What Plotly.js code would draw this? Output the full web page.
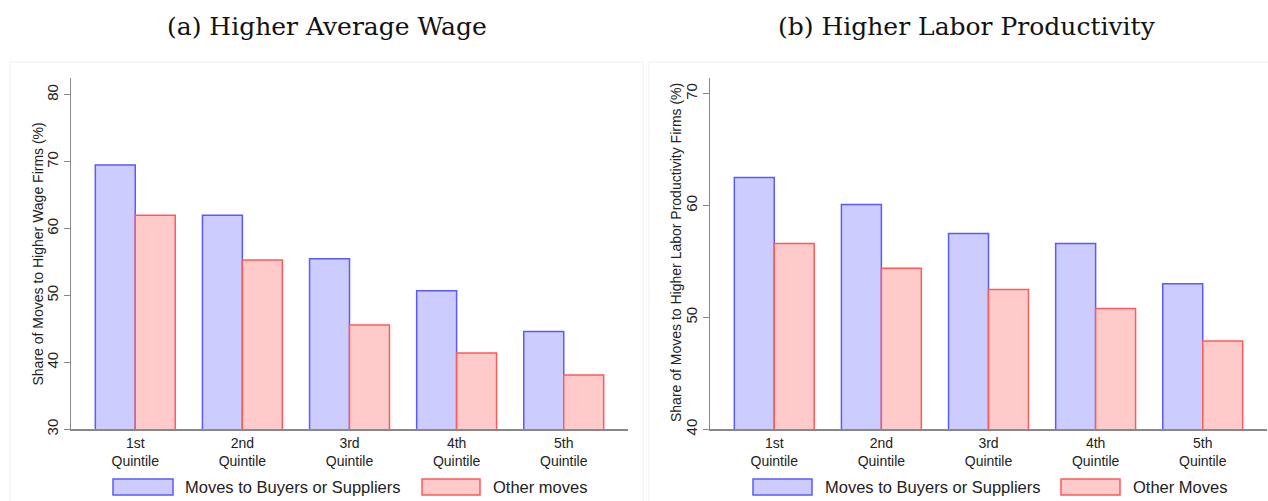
<!DOCTYPE html>
<html>
<head>
<meta charset="utf-8">
<script src="https://cdn.plot.ly/plotly-3.0.1.min.js"></script>
<style>html,body{margin:0;padding:0;background:#fff;}#chart{width:1268px;height:501px;}</style>
</head>
<body>
<div id="chart"></div>
<script>
const categories = ["1st<br>Quintile", "2nd<br>Quintile", "3rd<br>Quintile", "4th<br>Quintile", "5th<br>Quintile"];
const wageBuyersSuppliers = [69.5, 62.0, 55.5, 50.7, 44.6];
const wageOtherMoves = [62.0, 55.3, 45.6, 41.4, 38.1];
const prodBuyersSuppliers = [62.5, 60.1, 57.5, 56.6, 53.0];
const prodOtherMoves = [56.6, 54.4, 52.5, 50.8, 47.9];
const seriesNamesA = ["Moves to Buyers or Suppliers", "Other moves"];
const seriesNamesB = ["Moves to Buyers or Suppliers", "Other Moves"];
const panelTitles = ["(a) Higher Average Wage", "(b) Higher Labor Productivity"];
const yTitles = ["Share of Moves to Higher Wage Firms (%)", "Share of Moves to Higher Labor Productivity Firms (%)"];
const yTicksA = [30, 40, 50, 60, 70, 80];
const yTicksB = [40, 50, 60, 70];

const W = 1268, H = 501;
const px = x => x / W;
const py = y => (H - y) / H;

const blueFill = "#ccccff", blueLine = "#5a5aff";
const redFill = "#ffcaca", redLine = "#ff5a5a";
const sans = "Liberation Sans, Arial, sans-serif";

function bar(x, y, name, fill, line, xa, ya) {
  return {type: "bar", x: x, y: y, name: name, xaxis: xa, yaxis: ya,
    marker: {color: fill, line: {color: line, width: 1.5}}, showlegend: false, hoverinfo: "y"};
}

const data = [
  bar(categories, wageBuyersSuppliers, seriesNamesA[0], blueFill, blueLine, "x", "y"),
  bar(categories, wageOtherMoves, seriesNamesA[1], redFill, redLine, "x", "y"),
  bar(categories, prodBuyersSuppliers, seriesNamesB[0], blueFill, blueLine, "x2", "y2"),
  bar(categories, prodOtherMoves, seriesNamesB[1], redFill, redLine, "x2", "y2")
];

const tickFont = {family: sans, size: 14, color: "#222"};
const yTickFont = {family: sans, size: 15, color: "#222"};
const yDomain = [py(429.3), py(78)];

function xAxis(domain, anchor) {
  return {domain: domain, anchor: anchor, type: "category", range: [-0.6, 4.6],
    showline: true, linecolor: "#888", linewidth: 1.5, ticks: "", showgrid: false,
    zeroline: false, tickfont: tickFont, fixedrange: true};
}
function yAxis(domain, anchor, range, ticks) {
  return {domain: domain, anchor: anchor, range: range, tickvals: ticks, ticktext: ticks.map(String),
    showline: true, linecolor: "#888", linewidth: 1.5, ticks: "outside", ticklen: 6, tickcolor: "#888",
    tickwidth: 1.5, showgrid: false, zeroline: false, tickangle: -90, tickfont: yTickFont,
    fixedrange: true};
}

const shapes = [
  {type: "rect", xref: "paper", yref: "paper", x0: px(10), x1: px(643), y0: py(520), y1: py(62),
   line: {color: "#efefef", width: 1}, fillcolor: "rgba(0,0,0,0)", layer: "below"},
  {type: "rect", xref: "paper", yref: "paper", x0: px(649), x1: px(1280), y0: py(520), y1: py(62),
   line: {color: "#efefef", width: 1}, fillcolor: "rgba(0,0,0,0)", layer: "below"}
];
const annotations = [
  {text: panelTitles[0], xref: "paper", yref: "paper", x: px(327), y: py(27), showarrow: false,
   xanchor: "center", yanchor: "middle", font: {family: "DejaVu Serif, serif", size: 25, color: "#111"}},
  {text: panelTitles[1], xref: "paper", yref: "paper", x: px(967), y: py(27), showarrow: false,
   xanchor: "center", yanchor: "middle", font: {family: "DejaVu Serif, serif", size: 25, color: "#111"}},
  {text: yTitles[0], xref: "paper", yref: "paper", x: px(37), y: py(254.5), showarrow: false, textangle: -90,
   xanchor: "center", yanchor: "middle", font: {family: sans, size: 14, color: "#222"}},
  {text: yTitles[1], xref: "paper", yref: "paper", x: px(676), y: py(253), showarrow: false, textangle: -90,
   xanchor: "center", yanchor: "middle", font: {family: sans, size: 14, color: "#222"}}
];

// manual legends (wide swatches as in the reference)
const legendItems = [
  {x0: 113, x1: 173, tx: 183, name: seriesNamesA[0], fill: blueFill, line: blueLine},
  {x0: 422, x1: 480, tx: 491, name: seriesNamesA[1], fill: redFill, line: redLine},
  {x0: 753, x1: 812, tx: 823, name: seriesNamesB[0], fill: blueFill, line: blueLine},
  {x0: 1061, x1: 1120, tx: 1131, name: seriesNamesB[1], fill: redFill, line: redLine}
];
legendItems.forEach(it => {
  shapes.push({type: "rect", xref: "paper", yref: "paper", x0: px(it.x0), x1: px(it.x1), y0: py(495), y1: py(479),
    fillcolor: it.fill, line: {color: it.line, width: 1.5}});
  annotations.push({text: it.name, xref: "paper", yref: "paper", x: px(it.tx), y: py(487), showarrow: false,
    xanchor: "left", yanchor: "middle", font: {family: sans, size: 16.5, color: "#222"}});
});

const layout = {
  width: W, height: H, margin: {l: 0, r: 0, t: 0, b: 0},
  paper_bgcolor: "#fff", plot_bgcolor: "#fff",
  barmode: "group", bargap: 0.254, bargroupgap: 0,
  showlegend: false,
  xaxis: xAxis([px(71), px(628)], "y"),
  yaxis: yAxis(yDomain, "x", [30, 82.5], yTicksA),
  xaxis2: xAxis([px(710), px(1267)], "y2"),
  yaxis2: yAxis(yDomain, "x2", [40, 71.4], yTicksB),
  shapes: shapes, annotations: annotations
};

Plotly.newPlot("chart", data, layout, {displayModeBar: false, staticPlot: true});
</script>
</body>
</html>
